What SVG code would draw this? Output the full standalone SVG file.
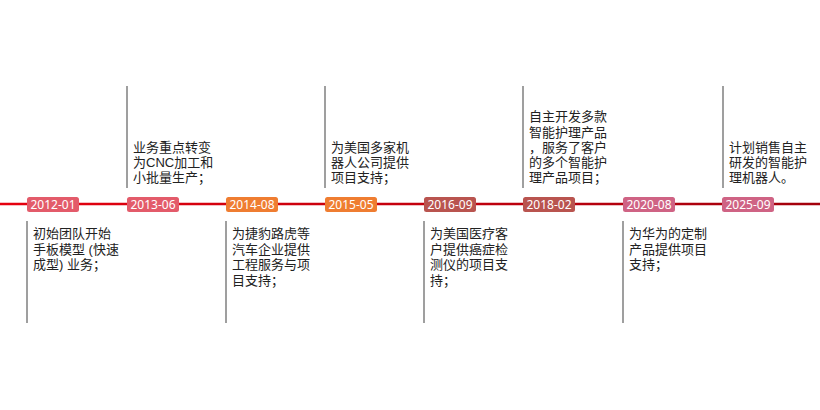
<svg xmlns="http://www.w3.org/2000/svg" width="820" height="410" viewBox="0 0 820 410">
<defs>
<linearGradient id="lg" x1="0" y1="0" x2="820" y2="0" gradientUnits="userSpaceOnUse">
<stop offset="0" stop-color="#e6000f"/>
<stop offset="1" stop-color="#a3000c"/>
</linearGradient>
<style>
.vl{stroke:#7f7f7f;stroke-width:1.5;fill:none}
.d{fill:#fff;font-family:"Noto Sans","DejaVu Sans",sans-serif;font-size:12px;text-anchor:middle}
.t{fill:#222;font-family:"Liberation Sans","Noto Sans CJK SC",sans-serif;font-size:13px}
.c1{fill:#e35b6a}.c2{fill:#ef7d31}.c3{fill:#b9544f}.c4{fill:#cf6384}
</style>
</defs>
<rect width="820" height="410" fill="#fff"/>
<g id="connectors">
<line x1="0" y1="204" x2="820" y2="204" stroke="url(#lg)" stroke-width="2.5"/>
<line class="vl" x1="27" y1="221" x2="27" y2="323"/>
<line class="vl" x1="127" y1="86" x2="127" y2="188"/>
<line class="vl" x1="226" y1="221" x2="226" y2="323"/>
<line class="vl" x1="325" y1="86" x2="325" y2="188"/>
<line class="vl" x1="424" y1="221" x2="424" y2="323"/>
<line class="vl" x1="523" y1="86" x2="523" y2="188"/>
<line class="vl" x1="623" y1="221" x2="623" y2="323"/>
<line class="vl" x1="723" y1="86" x2="723" y2="188"/>
</g>
<g id="n2012">
<rect class="c1" x="27" y="197" width="52" height="15" rx="2.5"/>
<text class="d" x="53" y="209">2012-01</text>
<text class="t" x="33" y="238">初始团队开始</text>
<text class="t" x="33" y="253.5">手板模型 (快速</text>
<text class="t" x="33" y="269">成型) 业务；</text>
</g>
<g id="n2013">
<rect class="c1" x="127" y="197" width="52" height="15" rx="2.5"/>
<text class="d" x="153" y="209">2013-06</text>
<text class="t" x="133" y="152">业务重点转变</text>
<text class="t" x="133" y="167">为CNC加工和</text>
<text class="t" x="133" y="182">小批量生产；</text>
</g>
<g id="n2014">
<rect class="c2" x="226" y="197" width="52" height="15" rx="2.5"/>
<text class="d" x="252" y="209">2014-08</text>
<text class="t" x="232" y="238">为捷豹路虎等</text>
<text class="t" x="232" y="253.5">汽车企业提供</text>
<text class="t" x="232" y="269">工程服务与项</text>
<text class="t" x="232" y="284.5">目支持；</text>
</g>
<g id="n2015">
<rect class="c2" x="325" y="197" width="52" height="15" rx="2.5"/>
<text class="d" x="351" y="209">2015-05</text>
<text class="t" x="331" y="152">为美国多家机</text>
<text class="t" x="331" y="167">器人公司提供</text>
<text class="t" x="331" y="182">项目支持；</text>
</g>
<g id="n2016">
<rect class="c3" x="424" y="197" width="52" height="15" rx="2.5"/>
<text class="d" x="450" y="209">2016-09</text>
<text class="t" x="430" y="238">为美国医疗客</text>
<text class="t" x="430" y="253.5">户提供癌症检</text>
<text class="t" x="430" y="269">测仪的项目支</text>
<text class="t" x="430" y="284.5">持；</text>
</g>
<g id="n2018">
<rect class="c3" x="523" y="197" width="52" height="15" rx="2.5"/>
<text class="d" x="549" y="209">2018-02</text>
<text class="t" x="529" y="121">自主开发多款</text>
<text class="t" x="529" y="136.5">智能护理产品</text>
<text class="t" x="529" y="152">，服务了客户</text>
<text class="t" x="529" y="167">的多个智能护</text>
<text class="t" x="529" y="182">理产品项目；</text>
</g>
<g id="n2020">
<rect class="c4" x="623" y="197" width="52" height="15" rx="2.5"/>
<text class="d" x="649" y="209">2020-08</text>
<text class="t" x="629" y="238">为华为的定制</text>
<text class="t" x="629" y="253.5">产品提供项目</text>
<text class="t" x="629" y="269">支持；</text>
</g>
<g id="n2025">
<rect class="c4" x="722" y="197" width="52" height="15" rx="2.5"/>
<text class="d" x="748" y="209">2025-09</text>
<text class="t" x="729" y="152">计划销售自主</text>
<text class="t" x="729" y="167">研发的智能护</text>
<text class="t" x="729" y="182">理机器人。</text>
</g>
</svg>
